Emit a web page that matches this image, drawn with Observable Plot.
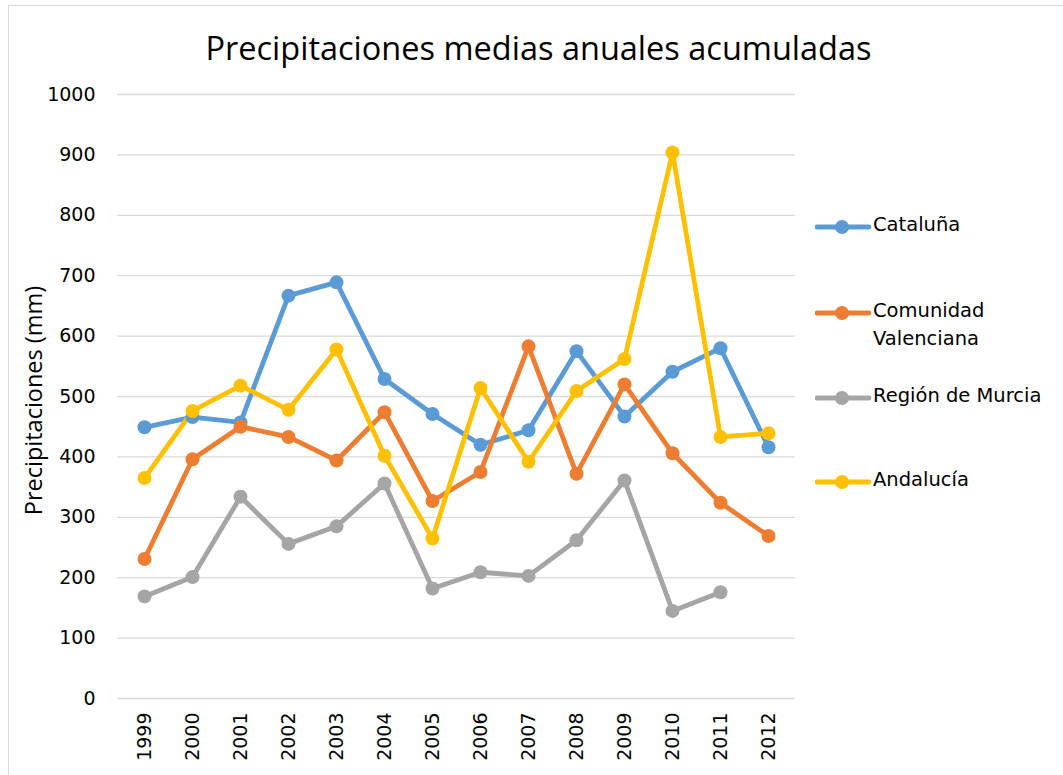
<!DOCTYPE html>
<html>
<head>
<meta charset="utf-8">
<script src="https://cdn.jsdelivr.net/npm/d3@7"></script>
<script src="https://cdn.jsdelivr.net/npm/@observablehq/plot@0.6"></script>
<style>
  html, body { margin: 0; padding: 0; background: #fff; }
  #wrap { position: relative; width: 1063px; height: 775px; overflow: hidden; }
  #frame { position: absolute; left: 8px; top: 5px; width: 1100px; height: 800px; border-left: 1px solid #d9d9d9; border-top: 1px solid #d9d9d9; }
  #title { position: absolute; left: 0; width: 1077px; top: 26px; text-align: center; font-family: "Open Sans", sans-serif; font-size: 32.5px; line-height: 44px; color: #000; }
  #legend { position: absolute; left: 815px; top: 0; font-family: "DejaVu Sans", sans-serif; font-size: 19.5px; color: #000; }
  .item { position: absolute; left: 0; display: flex; align-items: flex-start; white-space: nowrap; }
  .item svg { flex: none; margin-top: 2px; }
  .item span { margin-left: 0px; line-height: 28px; margin-top: -4px; }
  #chart { position: absolute; left: 0; top: 0; }
</style>
</head>
<body>
<div id="wrap">
  <div id="frame"></div>
  <div id="chart"></div>
  <div id="title">Precipitaciones medias anuales acumuladas</div>
  <div id="legend"></div>
</div>
<script>
const years = ["1999","2000","2001","2002","2003","2004","2005","2006","2007","2008","2009","2010","2011","2012"];
const seriesNames = ["Cataluña", "Comunidad Valenciana", "Región de Murcia", "Andalucía"];
const cataluna   = [449, 466, 457, 667, 689, 529, 471, 420, 444, 575, 467, 541, 580, 416];
const valenciana = [231, 396, 450, 433, 394, 474, 327, 375, 583, 372, 520, 406, 324, 269];
const murcia     = [169, 201, 334, 256, 285, 356, 182, 209, 203, 262, 361, 145, 176, null];
const andalucia  = [365, 476, 518, 478, 578, 402, 265, 514, 392, 509, 562, 904, 433, 439];
const colors = ["#5B9BD5", "#ED7D31", "#A5A5A5", "#FFC000"];
const yTicks = [0, 100, 200, 300, 400, 500, 600, 700, 800, 900, 1000];

const allValues = [cataluna, valenciana, murcia, andalucia];
const rows = [];
seriesNames.forEach((s, i) => {
  years.forEach((yr, j) => {
    const v = allValues[i][j];
    if (v != null) rows.push({serie: s, year: yr, value: v});
  });
});

const chart = Plot.plot({
  width: 1063,
  height: 775,
  marginLeft: 117,
  marginRight: 268,
  marginTop: 94,
  marginBottom: 77,
  style: { fontFamily: "DejaVu Sans, sans-serif", fontSize: "19px", color: "#000", background: "transparent" },
  x: { type: "point", domain: years, padding: 0.5, label: null },
  y: { domain: [0, 1000], ticks: yTicks, label: null },
  color: { domain: seriesNames, range: colors },
  marks: [
    Plot.ruleY(yTicks, { stroke: "#d9d9d9", strokeWidth: 1.3 }),
    Plot.axisY({ ticks: yTicks, tickSize: 0, tickPadding: 22, fontSize: 19, tickFormat: d => String(d), label: null }),
    Plot.axisX({ tickSize: 0, tickPadding: 14, tickRotate: -90, fontSize: 19, label: null }),
    Plot.text(["Precipitaciones (mm)"], { frameAnchor: "left", textAnchor: "middle", dx: -83, dy: 4, rotate: -90, fontSize: 23.5, fontFamily: "Open Sans, sans-serif", fill: "#000" }),
    Plot.line(rows, { x: "year", y: "value", z: "serie", stroke: "serie", strokeWidth: 4.8, strokeLinejoin: "round", strokeLinecap: "round" }),
    Plot.dot(rows, { x: "year", y: "value", fill: "serie", r: 7 })
  ]
});
document.getElementById("chart").appendChild(chart);

// Legend
const legend = document.getElementById("legend");
const legendTops = [215, 301, 386, 470];
const legendLabels = [["Cataluña"], ["Comunidad", "Valenciana"], ["Región de Murcia"], ["Andalucía"]];
seriesNames.forEach((s, i) => {
  const item = document.createElement("div");
  item.className = "item";
  item.style.top = legendTops[i] + "px";
  item.innerHTML = `<svg width="58" height="20"><line x1="2" x2="54" y1="10" y2="10" stroke="${colors[i]}" stroke-width="4.8" stroke-linecap="round"/><circle cx="27" cy="10" r="7" fill="${colors[i]}"/></svg><span>${legendLabels[i].join("<br>")}</span>`;
  legend.appendChild(item);
});
</script>
</body>
</html>
